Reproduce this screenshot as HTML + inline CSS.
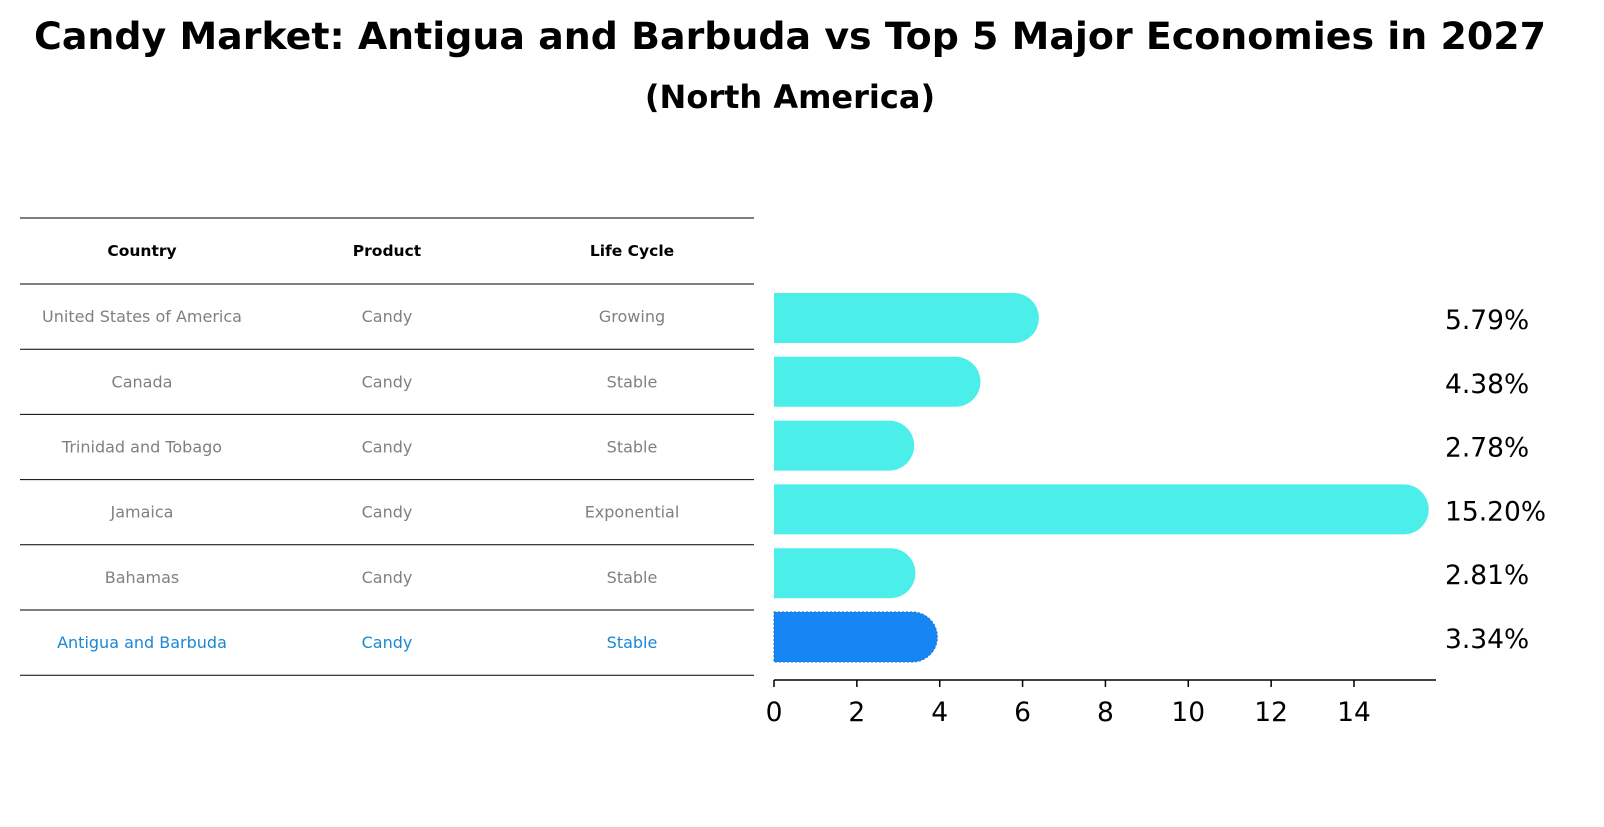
<!DOCTYPE html>
<html><head><meta charset="utf-8"><style>
body{margin:0;background:#fff;font-family:"DejaVu Sans","Liberation Sans",sans-serif}
svg text{font-family:"DejaVu Sans","Liberation Sans",sans-serif}
</style></head><body>
<svg width="1604" height="823" xmlns="http://www.w3.org/2000/svg">
<text x="790" y="49" text-anchor="middle" font-size="37" font-weight="bold" textLength="1512" lengthAdjust="spacingAndGlyphs">Candy Market: Antigua and Barbuda vs Top 5 Major Economies in 2027</text>
<text x="790" y="108" text-anchor="middle" font-size="32" font-weight="bold">(North America)</text>
<g id="table"></g>
<g id="bars"></g>
<g id="axis"></g>
</svg>
<script>
const countries=["United States of America","Canada","Trinidad and Tobago","Jamaica","Bahamas","Antigua and Barbuda"];
const products=["Candy","Candy","Candy","Candy","Candy","Candy"];
const lifeCycles=["Growing","Stable","Stable","Exponential","Stable","Stable"];
const values=[5.79,4.38,2.78,15.20,2.81,3.34];
const ticks=[0,2,4,6,8,10,12,14];
const NS="http://www.w3.org/2000/svg";
function mk(tag,attrs,parent){const e=document.createElementNS(NS,tag);for(const k in attrs)e.setAttribute(k,attrs[k]);parent.appendChild(e);return e;}
const x0=774,ppu=580/14;
const xs=v=>x0+v*ppu;
const rowY=i=>318+i*63.8;
const table=document.getElementById('table');
const lineYs=[218,284];
for(let i=0;i<countries.length;i++)lineYs.push(284+(i+1)*65.2);
lineYs.forEach((y,i)=>{const l=mk('line',{x1:20,x2:754,y1:y,y2:y,stroke:'#000','stroke-width':1},table);

});
const colX=[142,387,632];
["Country","Product","Life Cycle"].forEach((h,j)=>{const t=mk('text',{x:colX[j],y:256,'text-anchor':'middle','font-size':15.5,'font-weight':'bold'},table);t.textContent=h;

});
countries.forEach((c,i)=>{const y=284+i*65.2+32.6+5.5;const col=i===countries.length-1?'#1a87d4':'#808080';
[c,products[i],lifeCycles[i]].forEach((v,j)=>{const t=mk('text',{x:colX[j],y:y,'text-anchor':'middle','font-size':16,fill:col},table);t.textContent=v;

});});
const bars=document.getElementById('bars');
values.forEach((v,i)=>{const cy=rowY(i),h=50,last=i===values.length-1;const col=last?'#1786f5':'#4beee9';
const xe=xs(v);
const p=mk('path',{d:`M${x0},${cy-h/2} H${xe} A${h/2},${h/2} 0 0 1 ${xe},${cy+h/2} H${x0} Z`,fill:col},bars);
if(last){p.setAttribute('stroke','#1a6fd0');p.setAttribute('stroke-dasharray','2,2');}


const t=mk('text',{x:1445,y:cy+11,'font-size':26.5},bars);t.textContent=v.toFixed(2)+'%';

});
const axis=document.getElementById('axis');
mk('line',{x1:x0,x2:1436,y1:680,y2:680,stroke:'#000','stroke-width':1.5},axis);
ticks.forEach(t=>{const x=xs(t);mk('line',{x1:x,x2:x,y1:680,y2:687,stroke:'#000','stroke-width':1.5},axis);
const tx=mk('text',{x:x,y:721,'text-anchor':'middle','font-size':26.5},axis);tx.textContent=t;

});
</script>
</body></html>
